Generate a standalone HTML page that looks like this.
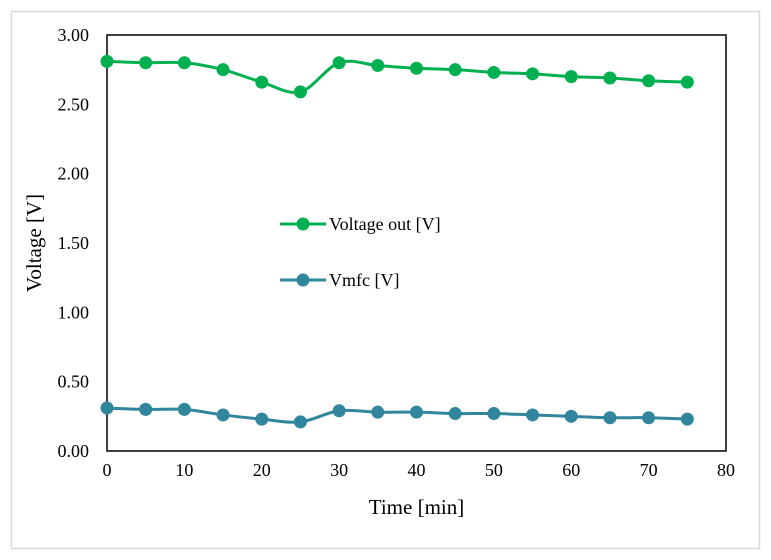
<!DOCTYPE html>
<html><head><meta charset="utf-8"><style>
body{margin:0;background:#fff;}
svg text{font-family:"Liberation Serif",serif;fill:#000;}
</style></head><body>
<svg width="771" height="555" viewBox="0 0 771 555">
<rect x="11.5" y="11.5" width="748" height="537" fill="#fff" stroke="#d9d9d9" stroke-width="1.5"/>
<g id="g"></g>
</svg>
<script>
const xs=[0,5,10,15,20,25,30,35,40,45,50,55,60,65,70,75];
const vout=[2.81,2.80,2.80,2.75,2.66,2.59,2.80,2.78,2.76,2.75,2.73,2.72,2.70,2.69,2.67,2.66];
const vmfc=[0.31,0.30,0.30,0.26,0.23,0.21,0.29,0.28,0.28,0.27,0.27,0.26,0.25,0.24,0.24,0.23];
const xTicks=[0,10,20,30,40,50,60,70,80];
const yTicks=[0,0.5,1,1.5,2,2.5,3];
const L=107,R=726,T=35,B=451;
const X=v=>L+(v-0)/80*(R-L);
const Y=v=>B-v/3*(B-T);
const g=document.getElementById('g');
const NS='http://www.w3.org/2000/svg';
function mk(t,a,p){const e=document.createElementNS(NS,t);for(const k in a)e.setAttribute(k,a[k]);(p||g).appendChild(e);return e;}
const frame=mk('rect',{x:L,y:T,width:R-L,height:B-T,fill:'none',stroke:'#000','stroke-width':1.5});


yTicks.forEach(v=>{const t=mk('text',{x:L-18,y:Y(v)+6,'text-anchor':'end','font-size':18});t.textContent=v.toFixed(2);

});
xTicks.forEach(v=>{const t=mk('text',{x:X(v),y:B+25,'text-anchor':'middle','font-size':18});t.textContent=v;

});
const xt=mk('text',{x:(L+R)/2,y:514,'text-anchor':'middle','font-size':21});xt.textContent='Time [min]';


const yt=mk('text',{x:0,y:0,'text-anchor':'middle','font-size':21,transform:`translate(41,${(T+B)/2}) rotate(-90)`});yt.textContent='Voltage [V]';


function smooth(pts){let d=`M${pts[0][0]},${pts[0][1]}`;for(let i=0;i<pts.length-1;i++){const p0=pts[Math.max(0,i-1)],p1=pts[i],p2=pts[i+1],p3=pts[Math.min(pts.length-1,i+2)];const k=1/6;d+=` C${p1[0]+(p2[0]-p0[0])*k},${p1[1]+(p2[1]-p0[1])*k} ${p2[0]-(p3[0]-p1[0])*k},${p2[1]-(p3[1]-p1[1])*k} ${p2[0]},${p2[1]}`;}return d;}
function series(vals,color,name){const pts=xs.map((x,i)=>[X(x),Y(vals[i])]);
const p=mk('path',{d:smooth(pts),fill:'none',stroke:color,'stroke-width':3});


pts.forEach(q=>{const c=mk('circle',{cx:q[0],cy:q[1],r:6.5,fill:color});

});}
series(vout,'#00b050','voltage-out');
series(vmfc,'#31859c','vmfc');
function leg(y,color,label,name){const l=mk('line',{x1:280,x2:326,y1:y,y2:y,stroke:color,'stroke-width':3});


const c=mk('circle',{cx:303,cy:y,r:6.5,fill:color});


const t=mk('text',{x:329,y:y+6,'font-size':18});t.textContent=label;

}
leg(224,'#00b050','Voltage out [V]','voltage-out');
leg(280,'#31859c','Vmfc [V]','vmfc');
</script>
</body></html>
